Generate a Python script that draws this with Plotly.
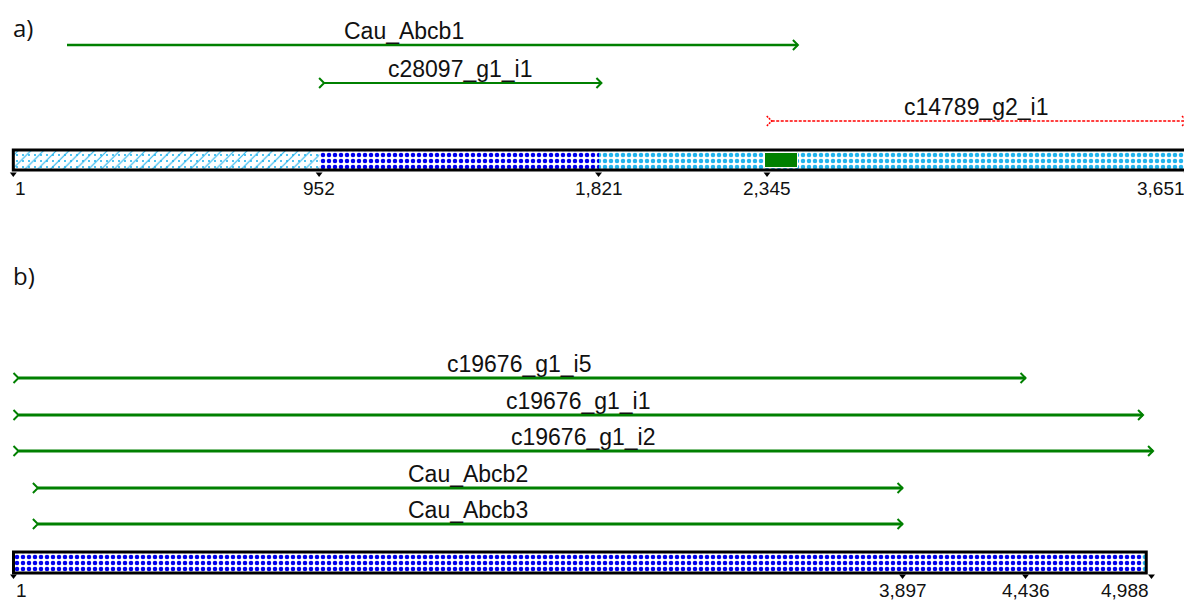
import plotly.graph_objects as go

# ---------------- data ----------------
# panel a
a_len = 3651
a_ticks = [1, 952, 1821, 2345, 3651]
a_tick_text = ["1", "952", "1,821", "2,345", "3,651"]
a_region_start = [1, 952, 1821]
a_region_end = [952, 1821, 3651]
a_block_start = [2340]
a_block_end = [2440]
a_names = ["Cau_Abcb1", "c28097_g1_i1", "c14789_g2_i1"]
a_start = [168, 952, 2344]
a_end = [2441, 1830, 3651]
a_label_at = [1216, None, None]   # label position (sequence units) when not centred
a_tail = [False, True, True]
a_colors = ["#008000", "#008000", "#ff0000"]
a_dash = ["solid", "solid", "3px,1.5px"]

# panel b
b_len = 4965
b_ticks = [1, 3897, 4436, 4988]
b_tick_text = ["1", "3,897", "4,436", "4,988"]
b_region_start = [1, 4950]
b_region_end = [4950, 4965]
b_names = ["c19676_g1_i5", "c19676_g1_i1", "c19676_g1_i2", "Cau_Abcb2", "Cau_Abcb3"]
b_start = [1, 1, 1, 86, 86]
b_end = [4436, 4951, 4995, 3897, 3897]
b_tail = [True, True, True, True, True]

# ---------------- layout constants ----------------
W, H = 1192, 601
OFF = 8  # page body margin
PW, PH = W - OFF, H - OFF
a_px0, a_scale = 13.3, 0.32156
b_px0, b_scale = 13.5, 0.22819
a_range = [1 + (OFF - a_px0) / a_scale, 1 + (W - a_px0) / a_scale]
b_range = [1 + (OFF - b_px0) / b_scale, 1 + (W - b_px0) / b_scale]

a_rows = [45, 83, 121]
a_bar_y, a_bar_h = 160, 20
b_rows = [378, 415, 451, 488, 524]
b_bar_y, b_bar_h = 562.5, 21

GREEN = "#008000"
LBLUE = "#22b4ee"
BLUE = "#0000ee"
TXT_FONT = "Liberation Sans, Arial, sans-serif"

fig = go.Figure()


def add_arrow(xaxis, scale, s, e, y, color, width, dash, tail, name, label_at=None):
    d = 5 / scale
    x0 = s + d if tail else s
    hd = "solid" if dash == "solid" else "2px,1px"
    hw = 2 if dash == "solid" else 1.5
    fig.add_trace(go.Scatter(x=[x0, e], y=[y, y], mode="lines",
                             line=dict(color=color, width=width, dash=dash),
                             xaxis=xaxis, yaxis="y", hoverinfo="skip"))
    fig.add_trace(go.Scatter(x=[e - d, e, e - d], y=[y - 5, y, y + 5], mode="lines",
                             line=dict(color=color, width=hw, dash=hd),
                             xaxis=xaxis, yaxis="y", hoverinfo="skip"))
    if tail:
        fig.add_trace(go.Scatter(x=[s, s + d, s], y=[y - 5, y, y + 5], mode="lines",
                                 line=dict(color=color, width=hw, dash=hd),
                                 xaxis=xaxis, yaxis="y", hoverinfo="skip"))
    lx = (s + e) / 2 if label_at is None else label_at
    fig.add_annotation(x=lx, y=y - 14, xref=xaxis, yref="y", text=name,
                       showarrow=False, xanchor="center", yanchor="middle",
                       font=dict(family=TXT_FONT, size=23, color="#111"))


def add_bar(xaxis, s, e, y, h, pattern, color="white", line=None):
    fig.add_trace(go.Bar(x=[e - s], base=[s], y=[y], width=h, orientation="h",
                         xaxis=xaxis, yaxis="y",
                         marker=dict(color=color, pattern=pattern,
                                     line=dict(width=0 if line is None else line[0],
                                               color="white" if line is None else line[1])),
                         hoverinfo="skip"))


# ---- panel a bar ----
pat_hatch = dict(shape="/", fgcolor=LBLUE, bgcolor="white", size=9, solidity=0.12, fillmode="replace")
pat_dots = dict(shape=".", fgcolor=LBLUE, bgcolor="rgba(0,0,0,0)", size=6, solidity=0.1, fillmode="replace")
pat_navy = dict(shape=".", fgcolor=BLUE, bgcolor="white", size=6, solidity=0.45, fillmode="replace")
pat_light = dict(shape=".", fgcolor=LBLUE, bgcolor="white", size=6, solidity=0.45, fillmode="replace")

add_bar("x", a_region_start[0], a_region_end[0], a_bar_y, a_bar_h, pat_hatch)
add_bar("x", a_region_start[0], a_region_end[0], a_bar_y, a_bar_h, pat_dots, color="rgba(0,0,0,0)")
add_bar("x", a_region_start[1], a_region_end[1], a_bar_y, a_bar_h, pat_navy)
add_bar("x", a_region_start[2], a_region_end[2], a_bar_y, a_bar_h, pat_light)
for s, e in zip(a_block_start, a_block_end):
    add_bar("x", s, e, a_bar_y, 15, None, color=GREEN, line=(1, "white"))

fig.add_shape(type="rect", xref="x", yref="y", x0=1, x1=a_len,
              y0=a_bar_y - a_bar_h / 2, y1=a_bar_y + a_bar_h / 2,
              line=dict(color="black", width=3), fillcolor="rgba(0,0,0,0)", layer="above")

# ---- panel b bar ----
add_bar("x2", b_region_start[0], b_region_end[0], b_bar_y, b_bar_h, pat_navy)
add_bar("x2", b_region_start[1], b_region_end[1], b_bar_y, b_bar_h, pat_light)
fig.add_shape(type="rect", xref="x2", yref="y", x0=1, x1=b_len,
              y0=b_bar_y - b_bar_h / 2, y1=b_bar_y + b_bar_h / 2,
              line=dict(color="black", width=3), fillcolor="rgba(0,0,0,0)", layer="above")

# ---- arrows ----
a_widths = [2.5, 2, 1.5]
for i, n in enumerate(a_names):
    add_arrow("x", a_scale, a_start[i], a_end[i], a_rows[i], a_colors[i], a_widths[i],
              a_dash[i], a_tail[i], n, a_label_at[i])
for i, n in enumerate(b_names):
    add_arrow("x2", b_scale, b_start[i], b_end[i], b_rows[i], GREEN, 3.2, "solid", b_tail[i], n)


# ---- ticks ----
def add_ticks(xaxis, ticks, texts, ymark, ylab):
    fig.add_trace(go.Scatter(x=ticks, y=[ymark] * len(ticks), mode="markers",
                             marker=dict(symbol="triangle-down", size=6, color="black"),
                             xaxis=xaxis, yaxis="y", hoverinfo="skip"))
    for j, (t, txt) in enumerate(zip(ticks, texts)):
        anchor = "left" if j == 0 else ("right" if j == len(ticks) - 1 else "center")
        fig.add_annotation(x=t, y=ylab, xref=xaxis, yref="y", text=txt, showarrow=False,
                           xanchor=anchor, yanchor="middle",
                           font=dict(family=TXT_FONT, size=19, color="#111"))


add_ticks("x", a_ticks, a_tick_text, 174, 188.5)
add_ticks("x2", b_ticks, b_tick_text, 576, 590)

# ---- panel labels ----
for lab, yy, anc in [("a)", OFF + 0.5, "top"), ("b)", 275, "middle")]:
    fig.add_annotation(x=(11 - OFF) / PW, y=yy, xref="paper", yref="y", text=lab,
                       showarrow=False, xanchor="left", yanchor=anc,
                       font=dict(family="Open Sans, sans-serif", size=24, color="#111"))

fig.update_layout(
    width=PW, height=PH, margin=dict(l=0, r=0, t=0, b=0),
    paper_bgcolor="white", plot_bgcolor="white", showlegend=False,
    barmode="overlay", bargap=0,
    xaxis=dict(range=a_range, visible=False, domain=[0, 1]),
    xaxis2=dict(range=b_range, visible=False, overlaying="x", anchor="y"),
    yaxis=dict(range=[H, OFF], visible=False, domain=[0, 1]),
)

fig.write_html("out.html")
